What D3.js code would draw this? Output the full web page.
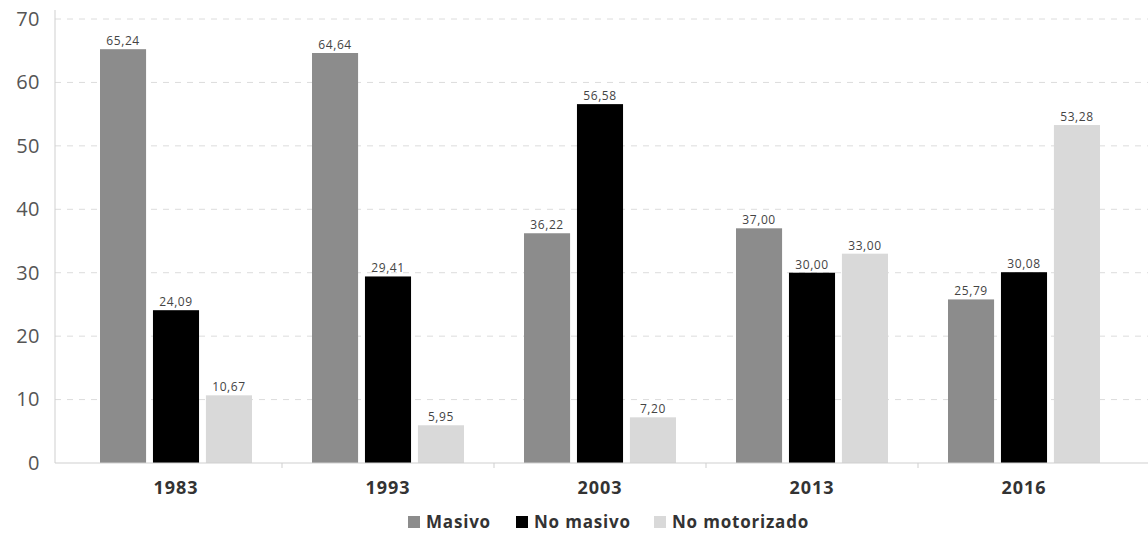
<!DOCTYPE html>
<html><head><meta charset="utf-8">
<script src="https://cdn.jsdelivr.net/npm/d3@7"></script>
<style>body{margin:0;background:#fff}svg{display:block;font-family:"Open Sans",sans-serif}</style>
</head><body><svg id="c" width="1148" height="533"></svg>
<script>
const years = ["1983","1993","2003","2013","2016"];
const seriesNames = ["Masivo","No masivo","No motorizado"];
const masivo = [65.24,64.64,36.22,37.00,25.79];
const noMasivo = [24.09,29.41,56.58,30.00,30.08];
const noMotorizado = [10.67,5.95,7.20,33.00,53.28];
const yTicks = [0,10,20,30,40,50,60,70];
const colors = ["#8c8c8c","#000000","#d9d9d9"];
const seriesVals = [masivo,noMasivo,noMotorizado];

const svg = d3.select("#c");
const x = d3.scaleBand().domain(years).range([70,1130]);
const xs = d3.scaleBand().domain(seriesNames).range([30,182]).paddingInner(0.13);
const y = d3.scaleLinear().domain([0,70]).range([463,19]);

// grid
svg.append("g").selectAll("line").data(yTicks.filter(d=>d>0)).join("line")
  .attr("x1",55).attr("x2",1148).attr("y1",d=>y(d)).attr("y2",d=>y(d))
  .attr("stroke","#dcdcdc").attr("stroke-dasharray","6,6").attr("stroke-width",1);

// y axis
const ya = svg.append("g").attr("transform","translate(55,0)")
  .call(d3.axisLeft(y).tickValues(yTicks).tickSize(0).tickPadding(15));
ya.select(".domain").attr("stroke","#cfcfcf").attr("d","M0,10V463");
ya.selectAll("text").attr("font-size",20).attr("fill","#555").attr("font-family","Open Sans")
  .attr("letter-spacing",0.5);

// bars
seriesNames.forEach((s,i)=>{
  const g = svg.append("g");
  g.selectAll("rect").data(years).join("rect")
    .attr("x",(d)=>x(d)+xs(s)).attr("width",xs.bandwidth())
    .attr("y",(d,j)=>y(seriesVals[i][j])).attr("height",(d,j)=>y(0)-y(seriesVals[i][j]))
    .attr("fill",colors[i]);
  g.selectAll("text").data(years).join("text")
    .attr("x",d=>x(d)+xs(s)+xs.bandwidth()/2)
    .attr("y",(d,j)=>y(seriesVals[i][j])-4)
    .attr("text-anchor","middle").attr("font-size",12).attr("letter-spacing",0.6).attr("fill","#444")
    .text((d,j)=>seriesVals[i][j].toFixed(2).replace(".",","));
});

// x axis
const xa = svg.append("g").attr("transform","translate(0,463)")
  .call(d3.axisBottom(x).tickSize(0).tickPadding(18));
xa.select(".domain").attr("stroke","#cfcfcf").attr("d","M55,0H1148");
xa.selectAll("text").attr("font-size",18).attr("font-weight","bold").attr("fill","#333")
  .attr("font-family","Open Sans").attr("letter-spacing",1);
svg.append("g").selectAll("line").data(years.slice(1)).join("line")
  .attr("x1",d=>x(d)).attr("x2",d=>x(d)).attr("y1",463).attr("y2",468).attr("stroke","#cfcfcf");

// legend
const legX = [408,516,654];
const lg = svg.append("g");
seriesNames.forEach((s,i)=>{
  lg.append("rect").attr("x",legX[i]).attr("y",516).attr("width",12).attr("height",12).attr("fill",colors[i]);
  lg.append("text").attr("x",legX[i]+18).attr("y",528).attr("font-size",17).attr("font-weight","bold")
    .attr("letter-spacing",0.8).attr("fill","#333").text(s);
});
</script></body></html>
